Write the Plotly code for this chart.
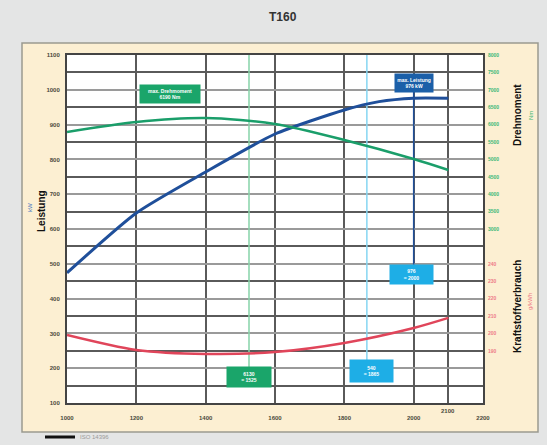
import plotly.graph_objects as go

# ---- data ----
rpm_power = [1000, 1200, 1400, 1600, 1800, 1900, 2000, 2100]
power_kw = [474, 646, 764, 873, 942, 966, 976, 976]

rpm_torque = [1000, 1200, 1400, 1600, 1800, 2000, 2100]
torque_nm = [5787, 6075, 6190, 6017, 5557, 5011, 4695]

rpm_fuel = [1000, 1200, 1400, 1600, 1800, 2000, 2100]
fuel_gkwh = [199.1, 190.5, 188.2, 189.3, 194.5, 203.1, 208.9]

x_ticks = [1000, 1200, 1400, 1600, 1800, 2000, 2100, 2200]
x_ticktext = ["1000", "1200", "1400", "1600", "1800", "2000", "", "2200"]
power_ticks = [100, 200, 300, 400, 500, 600, 700, 800, 900, 1000, 1100]
torque_ticks = [3000, 3500, 4000, 4500, 5000, 5500, 6000, 6500, 7000, 7500, 8000]
fuel_ticks = [190, 200, 210, 220, 230, 240]

# marker lines / labels
rpm_max_power = 2000
rpm_green_mark = 1525
rpm_cyan_mark = 1865

BLUE = "#1f4f9a"
GREEN = "#1a9e6a"
RED = "#e0455a"
CYAN = "#1eaee6"
FONT = "Liberation Sans, Arial, sans-serif"

fig = go.Figure()

# vertical marker lines
fig.add_trace(go.Scatter(x=[rpm_green_mark, rpm_green_mark], y=[1100, 203], mode="lines",
                         line=dict(color="#86d3a8", width=1.5), hoverinfo="skip", showlegend=False))
fig.add_trace(go.Scatter(x=[rpm_cyan_mark, rpm_cyan_mark], y=[1100, 220], mode="lines",
                         line=dict(color="#86d6f2", width=1.5), hoverinfo="skip", showlegend=False))
fig.add_trace(go.Scatter(x=[rpm_max_power, rpm_max_power], y=[994, 497], mode="lines",
                         line=dict(color=BLUE, width=1.5), hoverinfo="skip", showlegend=False))

# curves
fig.add_trace(go.Scatter(x=rpm_power, y=power_kw, mode="lines",
                         line=dict(color=BLUE, width=3, shape="spline", smoothing=0.6),
                         showlegend=False, name="Leistung"))
fig.add_trace(go.Scatter(x=rpm_torque, y=torque_nm, mode="lines", yaxis="y2",
                         line=dict(color=GREEN, width=2.5, shape="spline", smoothing=0.8),
                         showlegend=False, name="Drehmoment"))
fig.add_trace(go.Scatter(x=rpm_fuel, y=fuel_gkwh, mode="lines", yaxis="y3",
                         line=dict(color=RED, width=2.5, shape="spline", smoothing=0.8), showlegend=False,
                         name="Kraftstoffverbrauch"))

tickfont = dict(family=FONT, size=6, color="#4a4a3c", weight="bold")

fig.update_layout(
    width=547, height=445,
    margin=dict(l=67, r=64, t=55, b=42),
    paper_bgcolor="#e4e5e5",
    plot_bgcolor="white",
    xaxis=dict(range=[1000, 2200], tickvals=x_ticks, ticktext=x_ticktext, showgrid=True,
               gridcolor="#5a5a5a", gridwidth=1.5, zeroline=False, showline=True, mirror=True,
               linecolor="#444", linewidth=2, tickfont=tickfont, ticks="", ticklabelstandoff=8),
    yaxis=dict(range=[100, 1100], tickvals=power_ticks, showgrid=True, gridcolor="#9a9a9a", gridwidth=2,
               minor=dict(dtick=50, tick0=150, showgrid=True, gridcolor="#5a5a5a", gridwidth=1.5),
               zeroline=False, showline=True, mirror=True, linecolor="#444", linewidth=2,
               tickfont=tickfont, ticks="", ticklabelstandoff=4),
    yaxis2=dict(range=[-2000, 8000], overlaying="y", side="right", anchor="x", tickvals=torque_ticks,
                showgrid=False, zeroline=False, ticks="", ticklabelstandoff=4,
                tickfont=dict(family=FONT, size=5, color="#3cb878", weight="bold")),
    yaxis3=dict(range=[160, 360], overlaying="y", side="right", anchor="x", tickvals=fuel_ticks,
                showgrid=False, zeroline=False, ticks="", ticklabelstandoff=4,
                tickfont=dict(family=FONT, size=5, color="#ee7b88", weight="bold")),
    showlegend=False,
)


def px(xp):
    return (xp - 67) / 416


def py(yp):
    return (403 - yp) / 348


# beige panel + white plot area
fig.add_shape(type="rect", xref="paper", yref="paper", x0=px(22), x1=px(538), y0=py(432), y1=py(43),
              fillcolor="#fcefd2", line=dict(color="#9a9a90", width=1.5), layer="below")
fig.add_shape(type="rect", xref="paper", yref="paper", x0=0, x1=1, y0=0, y1=1,
              fillcolor="white", line=dict(width=0), layer="below")

anns = []
# title
anns.append(dict(x=px(283), y=py(17), xref="paper", yref="paper", text="<b>T160</b>", showarrow=False,
                 xanchor="center", yanchor="middle",
                 font=dict(family=FONT, size=12, color="#333")))

# axis titles
for txt, xp, yp, size, col, bold in [
    ("Leistung", 41, 211, 10, "#111", True),
    ("kW", 30, 208, 6, "#4a78c0", False),
    ("Drehmoment", 517, 115, 10, "#111", True),
    ("Nm", 531, 116, 6, "#3cb878", False),
    ("Kraftstoffverbrauch", 517, 307, 10, "#111", True),
    ("g/kWh", 530, 302, 6, "#ee7b88", False),
]:
    anns.append(dict(x=px(xp), y=py(yp), xref="paper", yref="paper", text=f"<b>{txt}</b>" if bold else txt,
                     textangle=-90, showarrow=False, xanchor="center", yanchor="middle",
                     font=dict(family=FONT, size=size, color=col)))

# 2100 tick label (raised)
anns.append(dict(x=2100, y=py(411), xref="x", yref="paper", text="2100", showarrow=False,
                 xanchor="center", yanchor="middle", font=tickfont))

boxfont = dict(family=FONT, size=5, color="white", weight="bold")
# boxes
anns.append(dict(x=1297, y=988, xref="x", yref="y", text="max. Drehmoment<br>6190 Nm", showarrow=False,
                 bgcolor="#1aa56a", width=58, height=16, font=boxfont))
anns.append(dict(x=rpm_max_power, y=1020, xref="x", yref="y", text="max. Leistung<br>976 kW", showarrow=False,
                 bgcolor="#1b5fa8", width=36, height=16, font=boxfont))
anns.append(dict(x=rpm_max_power - 5, y=468, xref="x", yref="y", text="976<br>= 2000", showarrow=False,
                 bgcolor=CYAN, width=41, height=17, font=boxfont))
anns.append(dict(x=rpm_green_mark, y=175, xref="x", yref="y", text="6130<br>= 1525", showarrow=False,
                 bgcolor="#1aa56a", width=42, height=18, font=boxfont))
anns.append(dict(x=1878, y=192, xref="x", yref="y", text="540<br>= 1865", showarrow=False,
                 bgcolor=CYAN, width=41, height=20, font=boxfont))

# bottom legend
anns.append(dict(x=px(78), y=py(437), xref="paper", yref="paper", text="ISO 14396", showarrow=False,
                 xanchor="left", yanchor="middle", font=dict(family=FONT, size=6, color="#9a9a9a")))
fig.add_shape(type="line", xref="paper", yref="paper", x0=px(45), x1=px(75), y0=py(437), y1=py(437),
              line=dict(color="#111", width=3))

fig.update_layout(annotations=anns)
fig.write_html("out.html", config={"displayModeBar": False},
               post_script="document.body.style.margin='0px';document.body.style.overflow='hidden';")
